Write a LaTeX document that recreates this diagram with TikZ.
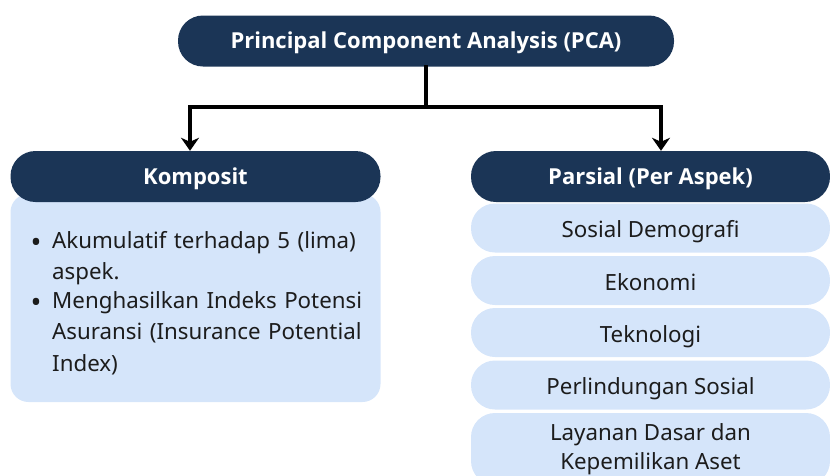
\documentclass[tikz,border=0pt]{standalone}
\usepackage{fontspec}
\setmainfont{Noto Sans}
\newfontfamily\headfont{Open Sans}
\usepackage{tikz}
\usetikzlibrary{arrows.meta}

\definecolor{navy}{HTML}{1B3556}
\definecolor{paleblue}{HTML}{D5E5FA}
\definecolor{ink}{HTML}{1C1C1C}

\tikzset{
    oneline/.style={text height=22pt, text depth=3pt},
    headbox/.style={fill=navy, text=white, rounded corners=25pt, minimum height=51pt,
        font=\headfont\fontsize{22}{26}\selectfont\bfseries, inner sep=0pt,
        text height=19.5pt, text depth=3.8pt},
    rowbox/.style={fill=paleblue, text=ink, rounded corners=24pt, minimum width=359pt,
        minimum height=49pt, inner sep=0pt, font=\fontsize{22.3}{29}\selectfont, align=center},
    bodytext/.style={text=ink, font=\fontsize{22.3}{31.5}\selectfont, anchor=north west,
        inner sep=0pt, text width=330pt, align=left},
    link/.style={line width=4pt, line cap=rect},
    arrow/.style={line width=4pt, -{Stealth[length=13pt,width=18pt,inset=4pt]}}
}

\begin{document}
\begin{tikzpicture}[x=1pt, y=-1pt]
    \useasboundingbox (0,0) rectangle (830,475);
    \clip (0,0) rectangle (830,475);

    % top box
    \node[headbox, minimum width=496pt] (pca) at (426,41) {Principal Component Analysis (PCA)};

    % left column: composite index
    \node[rowbox, minimum width=370pt, minimum height=208pt, rounded corners=18pt] (kbody) at (195.5,298) {};
    \node[headbox, minimum width=370pt] (komp) at (195.5,176.5) {Komposit};
    \node[text=ink, font=\fontsize{29}{29}\selectfont] (dot1) at (36,245) {\textbullet};
    \node[text=ink, font=\fontsize{29}{29}\selectfont] (dot2) at (36,305) {\textbullet};
    \node[bodytext] (ktext1) at (52,231) {Akumulatif terhadap 5 (lima)\\aspek.};
    \node[bodytext] (ktext2) at (52,291) {Menghasilkan Indeks Potensi\\Asuransi (Insurance Potential\\Index)};

    % right column: per aspect
    \node[rowbox, oneline] (r1) at (650.5,228) {Sosial Demografi};
    \node[rowbox, oneline] (r2) at (650.5,280.5) {Ekonomi};
    \node[rowbox, oneline] (r3) at (650.5,332.5) {Teknologi};
    \node[rowbox, oneline] (r4) at (650.5,385) {Perlindungan Sosial};
    \node[rowbox, minimum height=72pt] (r5) at (650.5,449) {Layanan Dasar dan\\Kepemilikan Aset};
    \node[headbox, minimum width=359pt] (pars) at (650.5,176.5) {Parsial (Per Aspek)};

    % connectors
    \coordinate (split) at (426,107);
    \coordinate (lft) at (190,107);
    \coordinate (rgt) at (661,107);
    \draw[link] (pca.south) -- (split);
    \draw[link] (lft) -- (rgt);
    \draw[arrow] (lft) -- (lft |- komp.north);
    \draw[arrow] (rgt) -- (rgt |- pars.north);
\end{tikzpicture}
\end{document}
